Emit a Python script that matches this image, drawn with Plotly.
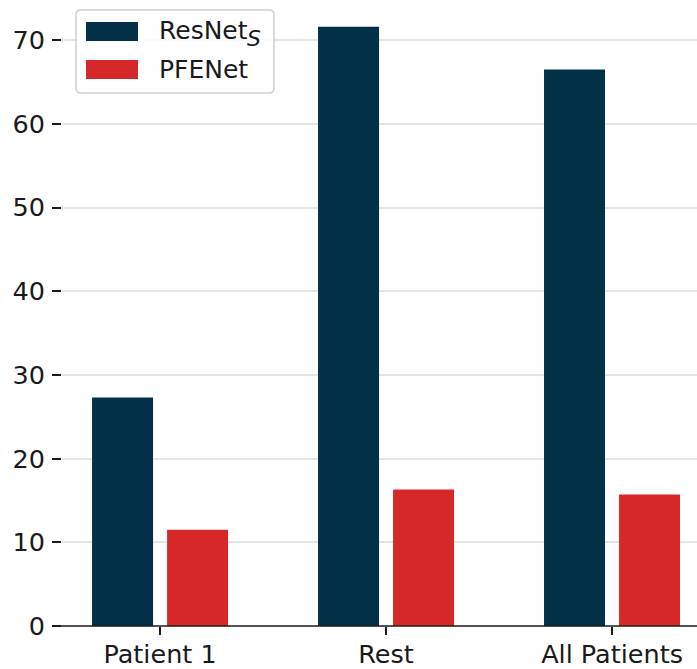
import plotly.graph_objects as go

# Data
categories = ["Patient 1", "Rest", "All Patients"]
resnet_s = [27.3, 71.6, 66.5]
pfenet = [11.5, 16.3, 15.7]
y_ticks = [0, 10, 20, 30, 40, 50, 60, 70]

NAVY = "#023047"
RED = "#d62828"
FONT = "DejaVu Sans"
INK = "#1a1a1a"
TICK_SIZE = 25.5
LEGEND_SIZE = 25

W, H = 697, 669
ML, MR, MT, MB = 62, 0, 0, 43
PW, PH = W - ML - MR, H - MT - MB


def px(x):
    return (x - ML) / PW


def py(y):
    return 1 - (y - MT) / PH


fig = go.Figure()
fig.add_trace(go.Bar(x=categories, y=resnet_s, name="ResNet_S",
                     marker=dict(color=NAVY, line=dict(width=0))))
fig.add_trace(go.Bar(x=categories, y=pfenet, name="PFENet",
                     marker=dict(color=RED, line=dict(width=0))))

# Legend drawn by hand: rounded frame, wide swatches
x0, x1, y0, y1, r = 76, 274, 10, 93, 5
path = (f"M {px(x0 + r)} {py(y0)} L {px(x1 - r)} {py(y0)} "
        f"Q {px(x1)} {py(y0)} {px(x1)} {py(y0 + r)} "
        f"L {px(x1)} {py(y1 - r)} Q {px(x1)} {py(y1)} {px(x1 - r)} {py(y1)} "
        f"L {px(x0 + r)} {py(y1)} Q {px(x0)} {py(y1)} {px(x0)} {py(y1 - r)} "
        f"L {px(x0)} {py(y0 + r)} Q {px(x0)} {py(y0)} {px(x0 + r)} {py(y0)} Z")
shapes = [
    dict(type="path", xref="paper", yref="paper", path=path,
         fillcolor="rgba(255,255,255,0.85)", line=dict(color="#d0d0d0", width=1.5),
         layer="above"),
    dict(type="rect", xref="paper", yref="paper", x0=px(86), x1=px(138),
         y0=py(22), y1=py(41), fillcolor=NAVY, line=dict(width=0), layer="above"),
    dict(type="rect", xref="paper", yref="paper", x0=px(86), x1=px(138),
         y0=py(60), y1=py(79), fillcolor=RED, line=dict(width=0), layer="above"),
    # bottom spine, extending slightly past the left tick marks
    dict(type="line", xref="paper", yref="paper", x0=px(53), x1=1, y0=0, y1=0,
         line=dict(color=INK, width=1.5), layer="above"),
]
annotations = [
    dict(xref="paper", yref="paper", x=px(157), y=py(30.5), xanchor="left",
         yanchor="middle", showarrow=False, text="ResNet",
         font=dict(family=FONT, size=LEGEND_SIZE, color=INK)),
    dict(xref="paper", yref="paper", x=px(245), y=py(38.5), xanchor="left",
         yanchor="middle", showarrow=False, text="<i>S</i>",
         font=dict(family=FONT, size=22, color=INK)),
    dict(xref="paper", yref="paper", x=px(157), y=py(69.5), xanchor="left",
         yanchor="middle", showarrow=False, text="PFENet",
         font=dict(family=FONT, size=LEGEND_SIZE, color=INK)),
]

fig.update_layout(
    width=W, height=H,
    margin=dict(l=ML, r=MR, t=MT, b=MB, pad=0, autoexpand=False),
    paper_bgcolor="white", plot_bgcolor="white",
    barmode="group", bargap=0.336, bargroupgap=0.187,
    showlegend=False,
    font=dict(family=FONT, size=TICK_SIZE, color=INK),
    shapes=shapes, annotations=annotations,
)
fig.update_xaxes(
    range=[-0.434, 2.376], showgrid=False, showline=False, zeroline=False,
    automargin=False,
    ticks="outside", ticklen=8, tickwidth=1.5, tickcolor=INK,
    ticklabelstandoff=-3,
    tickfont=dict(family=FONT, size=TICK_SIZE, color=INK),
)
fig.update_yaxes(
    range=[0, 74.8], tickvals=y_ticks, showgrid=True, gridcolor="#e5e5e5",
    gridwidth=2, showline=False, zeroline=False, automargin=False,
    ticks="outside", ticklen=9, tickwidth=1.5, tickcolor=INK,
    ticklabelstandoff=2,
    tickfont=dict(family=FONT, size=TICK_SIZE, color=INK),
)

fig.write_html("out.html")
